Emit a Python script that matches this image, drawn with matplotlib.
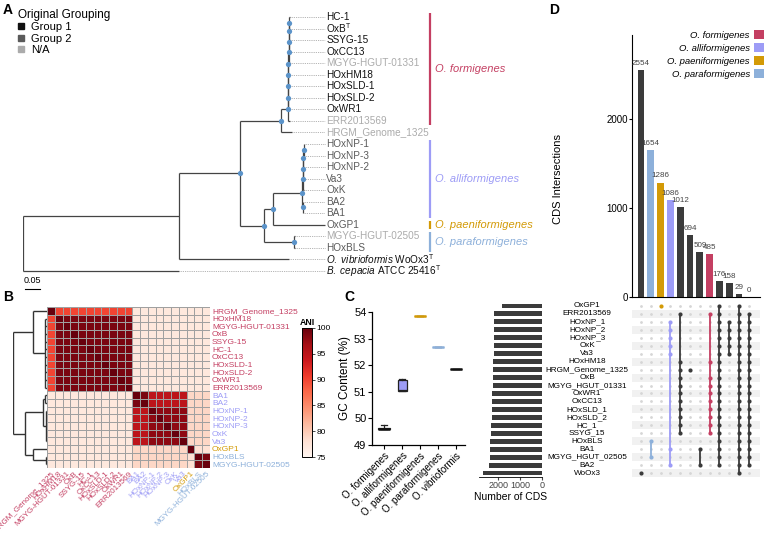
import numpy as np
import matplotlib
matplotlib.use('Agg')
import matplotlib.pyplot as plt
import matplotlib.transforms as mtransforms
from matplotlib.lines import Line2D
from matplotlib.patches import Patch

plt.rcParams['font.family'] = ['Liberation Sans', 'DejaVu Sans']
plt.rcParams['mathtext.fontset'] = 'custom'
plt.rcParams['mathtext.rm'] = 'Liberation Sans'
plt.rcParams['mathtext.it'] = 'Liberation Sans:italic'
plt.rcParams['mathtext.bf'] = 'Liberation Sans:bold'

# ---------------- data ----------------
# species colours
C_FORM, C_ALLI, C_PAENI, C_PARA, C_DARK = '#c43f62', '#9d9cf6', '#d39a06', '#8db0da', '#3b3b3b'

# Panel A: phylogeny (newick, branch lengths), tip groups, clade bars
FORM_LADDER = ("(((((((((HC-1:0.003,OxB:0.003)100:0.001,SSYG-15:0.004)100:0.001,OxCC13:0.005)100:0.0005,"
               "MGYG-HGUT-01331:0.0055)100:0.0005,HOxHM18:0.006)100:0.0005,HOxSLD-1:0.0065)100:0.0005,"
               "HOxSLD-2:0.007)100:0.0005,OxWR1:0.0075)100:0.0005,ERR2013569:0.008)100:0.023")
ALLI_CLADE = ("(((((HOxNP-1:0.002,HOxNP-3:0.002)100:0.001,HOxNP-2:0.003)100:0.001,Va3:0.003)100:0.001,"
              "OxK:0.003)100:0.002,(BA2:0.001,BA1:0.001)100:0.003)100:0.097")
PARA_CLADE = "(MGYG-HGUT-02505:0.003,HOxBLS:0.003)100:0.1"
TREE_NEWICK = ("((((" + FORM_LADDER + ",HRGM_Genome_1325:0.037)100:0.137,((" + ALLI_CLADE +
               ",OxGP1:0.173)100:0.03," + PARA_CLADE + ")100:0.08)100:0.203,WoOx3:0.367):0.52,"
               "ATCC25416:0.52);")
TIP_TEXT = {'OxB': r'OxB$^\mathrm{T}$',
            'WoOx3': r'$\mathit{O.\ vibrioformis}$ WoOx3$^\mathrm{T}$',
            'ATCC25416': r'$\mathit{B.\ cepacia}$ ATCC 25416$^\mathrm{T}$'}
GROUP1 = ['HC-1', 'OxB', 'SSYG-15', 'OxCC13', 'HOxHM18', 'HOxSLD-1', 'HOxSLD-2', 'OxWR1', 'WoOx3', 'ATCC25416']
GROUP2 = ['HOxNP-1', 'HOxNP-3', 'HOxNP-2', 'Va3', 'OxK', 'BA2', 'BA1', 'OxGP1', 'HOxBLS']
GROUP_COLORS = {'Group 1': '#111111', 'Group 2': '#5a5a5a', 'N/A': '#ababab'}
CLADES = [('O. formigenes', 'HC-1', 'ERR2013569', C_FORM),
          ('O. alliformigenes', 'HOxNP-1', 'BA1', C_ALLI),
          ('O. paeniformigenes', 'OxGP1', 'OxGP1', C_PAENI),
          ('O. paraformigenes', 'MGYG-HGUT-02505', 'HOxBLS', C_PARA)]

# Panel B: ANI heatmap
ANI_NAMES = ['HRGM_Genome_1325', 'HOxHM18', 'MGYG-HGUT-01331', 'OxB', 'SSYG-15', 'HC-1', 'OxCC13',
             'HOxSLD-1', 'HOxSLD-2', 'OxWR1', 'ERR2013569', 'BA1', 'BA2', 'HOxNP-1', 'HOxNP-2',
             'HOxNP-3', 'OxK', 'Va3', 'OxGP1', 'HOxBLS', 'MGYG-HGUT-02505']
ANI_SPECIES = ['form'] * 11 + ['alli'] * 7 + ['paeni'] + ['para'] * 2
ANI = [
    [100, 90, 90, 90, 90, 90, 90, 90, 90, 90, 90, 77, 77, 77, 77, 77, 77, 77, 77, 77, 77],
    [90, 100, 99, 99, 99, 99, 99, 99, 99, 99, 99, 77, 77, 77, 77, 77, 77, 77, 77, 77, 77],
    [90, 99, 100, 99, 99, 99, 99, 99, 99, 99, 99, 77, 77, 77, 77, 77, 77, 77, 77, 77, 77],
    [90, 99, 99, 100, 99, 99, 99, 99, 99, 99, 99, 77, 77, 77, 77, 77, 77, 77, 77, 77, 77],
    [90, 99, 99, 99, 100, 99, 99, 99, 99, 99, 99, 77, 77, 77, 77, 77, 77, 77, 77, 77, 77],
    [90, 99, 99, 99, 99, 100, 99, 99, 99, 99, 99, 77, 77, 77, 77, 77, 77, 77, 77, 77, 77],
    [90, 99, 99, 99, 99, 99, 100, 99, 99, 99, 99, 77, 77, 77, 77, 77, 77, 77, 77, 77, 77],
    [90, 99, 99, 99, 99, 99, 99, 100, 99, 99, 99, 77, 77, 77, 77, 77, 77, 77, 77, 77, 77],
    [90, 99, 99, 99, 99, 99, 99, 99, 100, 99, 99, 77, 77, 77, 77, 77, 77, 77, 77, 77, 77],
    [90, 99, 99, 99, 99, 99, 99, 99, 99, 100, 99, 77, 77, 77, 77, 77, 77, 77, 77, 77, 77],
    [90, 99, 99, 99, 99, 99, 99, 99, 99, 99, 100, 77, 77, 77, 77, 77, 77, 77, 77, 77, 77],
    [77, 77, 77, 77, 77, 77, 77, 77, 77, 77, 77, 100, 99, 95, 95, 95, 95, 95, 79, 79, 79],
    [77, 77, 77, 77, 77, 77, 77, 77, 77, 77, 77, 99, 100, 95, 95, 95, 95, 95, 79, 79, 79],
    [77, 77, 77, 77, 77, 77, 77, 77, 77, 77, 77, 95, 95, 100, 98, 98, 98, 98, 79, 79, 79],
    [77, 77, 77, 77, 77, 77, 77, 77, 77, 77, 77, 95, 95, 98, 100, 98, 98, 98, 79, 79, 79],
    [77, 77, 77, 77, 77, 77, 77, 77, 77, 77, 77, 95, 95, 98, 98, 100, 98, 98, 79, 79, 79],
    [77, 77, 77, 77, 77, 77, 77, 77, 77, 77, 77, 95, 95, 98, 98, 98, 100, 98, 79, 79, 79],
    [77, 77, 77, 77, 77, 77, 77, 77, 77, 77, 77, 95, 95, 98, 98, 98, 98, 100, 79, 79, 79],
    [77, 77, 77, 77, 77, 77, 77, 77, 77, 77, 77, 79, 79, 79, 79, 79, 79, 79, 100, 78, 78],
    [77, 77, 77, 77, 77, 77, 77, 77, 77, 77, 77, 79, 79, 79, 79, 79, 79, 79, 78, 100, 99],
    [77, 77, 77, 77, 77, 77, 77, 77, 77, 77, 77, 79, 79, 79, 79, 79, 79, 79, 78, 99, 100],
]
ANI_DENDRO = ("((HRGM_Genome_1325:0.41,(HOxHM18:0.06,MGYG-HGUT-01331:0.06,OxB:0.06,SSYG-15:0.06,HC-1:0.06,"
              "OxCC13:0.06,HOxSLD-1:0.06,HOxSLD-2:0.06,OxWR1:0.06,ERR2013569:0.06):0.35):0.59,"
              "(((BA1:0.05,BA2:0.05):0.07,(HOxNP-1:0.04,HOxNP-2:0.04,HOxNP-3:0.04,OxK:0.04,Va3:0.04):0.08):0.53,"
              "(OxGP1:0.41,(HOxBLS:0.03,MGYG-HGUT-02505:0.03):0.38):0.24):0.35);")

# Panel C: GC content summary per species (whislo, q1, med, q3, whishi)
GC_SPECIES = ['O. formigenes', 'O. alliformigenes', 'O. paeniformigenes', 'O. paraformigenes', 'O. vibrioformis']
GC_STATS = [(49.60, 49.60, 49.61, 49.63, 49.77),
            (51.02, 51.03, 51.05, 51.46, 51.47),
            (53.86, 53.86, 53.86, 53.86, 53.86),
            (52.70, 52.70, 52.70, 52.70, 52.70),
            (51.86, 51.86, 51.86, 51.86, 51.86)]
GC_COLORS = ['#111111', C_ALLI, C_PAENI, C_PARA, '#111111']

# Panel D: UpSet of CDS
SET_NAMES = ['OxGP1', 'ERR2013569', 'HOxNP_1', 'HOxNP_2', 'HOxNP_3', 'OxK', 'Va3', 'HOxHM18',
             'HRGM_Genome_1325', 'OxB', 'MGYG_HGUT_01331', 'OxWR1', 'OxCC13', 'HOxSLD_1', 'HOxSLD_2',
             'HC_1', 'SSYG_15', 'HOxBLS', 'BA1', 'MGYG_HGUT_02505', 'BA2', 'WoOx3']
SET_SIZES = [1835, 2180, 2180, 2180, 2185, 2190, 2190, 2240, 2245, 2245, 2255, 2285, 2285, 2300,
             2300, 2315, 2315, 2360, 2360, 2390, 2395, 2690]
FORM_SETS = ['ERR2013569', 'HOxHM18', 'HRGM_Genome_1325', 'OxB', 'MGYG_HGUT_01331', 'OxWR1', 'OxCC13',
             'HOxSLD_1', 'HOxSLD_2', 'HC_1', 'SSYG_15']
NP_SETS = ['HOxNP_1', 'HOxNP_2', 'HOxNP_3', 'OxK', 'Va3']
INTERSECT_SIZES = [2554, 1654, 1286, 1086, 1012, 694, 509, 485, 176, 158, 29, 0]
INTERSECT_COLORS = [C_DARK, C_PARA, C_PAENI, C_ALLI, C_DARK, C_DARK, C_DARK, C_FORM, C_DARK, C_DARK, C_DARK, C_DARK]
INTERSECT_MEMBERS = [
    ['WoOx3'],
    ['HOxBLS', 'MGYG_HGUT_02505'],
    ['OxGP1'],
    NP_SETS + ['BA1', 'BA2'],
    FORM_SETS,
    ['HRGM_Genome_1325'],
    ['BA1', 'BA2'],
    [s for s in FORM_SETS if s != 'HRGM_Genome_1325'],
    [s for s in SET_NAMES if s != 'WoOx3'],
    NP_SETS,
    SET_NAMES,
    [s for s in SET_NAMES if s not in ('OxGP1', 'WoOx3')],
]
LEGEND_SPECIES = [('O. formigenes', C_FORM), ('O. alliformigenes', C_ALLI),
                  ('O. paeniformigenes', C_PAENI), ('O. paraformigenes', C_PARA)]
SPECIES_COLOR = {'form': C_FORM, 'alli': C_ALLI, 'paeni': C_PAENI, 'para': C_PARA}


# ---------------- helpers ----------------
def parse_newick(s):
    s = s.strip().rstrip(';')
    pos = 0

    def node():
        nonlocal pos
        children = []
        if s[pos] == '(':
            pos += 1
            children.append(node())
            while s[pos] == ',':
                pos += 1
                children.append(node())
            pos += 1
        start = pos
        while pos < len(s) and s[pos] not in ':,)':
            pos += 1
        label = s[start:pos]
        length = 0.0
        if pos < len(s) and s[pos] == ':':
            pos += 1
            start = pos
            while pos < len(s) and s[pos] not in ',)':
                pos += 1
            length = float(s[start:pos])
        return {'label': label, 'len': length, 'children': children}
    return node()


def layout(n, x0, tips, offset=0.0):
    n['x'] = x0 + n['len']
    if n['children']:
        for c in n['children']:
            layout(c, n['x'], tips, offset)
        n['y'] = (n['children'][0]['y'] + n['children'][-1]['y']) / 2
    else:
        n['y'] = len(tips) + offset
        tips.append(n)


def draw_tree(ax, n, color, lw, dots=None):
    if not n['children']:
        return
    ys = [c['y'] for c in n['children']]
    ax.plot([n['x'], n['x']], [min(ys), max(ys)], color=color, lw=lw, solid_capstyle='butt')
    for c in n['children']:
        ax.plot([n['x'], c['x']], [c['y'], c['y']], color=color, lw=lw, solid_capstyle='butt')
        draw_tree(ax, c, color, lw, dots)
    if dots and n['label']:
        ax.plot(n['x'], n['y'], 'o', ms=3.8, color=dots, zorder=5, mec='none')


W, H = 767, 539
fig = plt.figure(figsize=(W / 100, H / 100), dpi=100)


def px_axes(x0, y0, x1, y1):
    return fig.add_axes([x0 / W, 1 - y1 / H, (x1 - x0) / W, (y1 - y0) / H])


for lab, x, y in [('A', 3, 3), ('B', 3, 290), ('C', 344, 290), ('D', 549, 3)]:
    fig.text(x / W, 1 - y / H, lab, fontsize=10, fontweight='bold', va='top', ha='left')

# ---------------- Panel A ----------------
axA = px_axes(23, 5, 545, 300)
axA.set_xlim(0, 522 / 300)
axA.set_ylim((300 - 17) / 11.545, -(17 - 5) / 11.545)
axA.axis('off')
tree = parse_newick(TREE_NEWICK)
tips = []
layout(tree, 0.0, tips)
draw_tree(axA, tree, '#444444', 0.9, dots='#5b93c9')
tip_end = 1.007
pos_of = {}
for t in tips:
    name = t['label']
    pos_of[name] = t['y']
    if t['x'] < tip_end - 0.002:
        axA.plot([t['x'], tip_end], [t['y'], t['y']], color='#9a9a9a', lw=0.6, ls=(0, (1, 1.2)))
    grp = 'Group 1' if name in GROUP1 else ('Group 2' if name in GROUP2 else 'N/A')
    axA.text(tip_end + 0.004, t['y'], TIP_TEXT.get(name, name), fontsize=7.2, va='center', ha='left',
             color=GROUP_COLORS[grp])
for text, first, last, col in CLADES:
    y0, y1 = pos_of[first] - 0.36, pos_of[last] + 0.38
    axA.plot([1.357, 1.357], [y0, y1], color=col, lw=1.6, solid_capstyle='butt')
    axA.text(1.373, (y0 + y1) / 2, text, color=col, fontsize=8, style='italic', va='center', ha='left')
axA.plot([0.007, 0.057], [23.56, 23.56], color='black', lw=0.8)
axA.text(0.032, 23.2, '0.05', fontsize=6.5, ha='center', va='bottom')

handles = [Line2D([], [], marker='s', ls='', color=c, ms=4.5) for c in GROUP_COLORS.values()]
fig.legend(handles, list(GROUP_COLORS.keys()), title='Original Grouping', loc='upper left',
           bbox_to_anchor=(18 / W, 1 - 9 / H), frameon=False, fontsize=8, title_fontsize=8.5,
           handlelength=0.6, handletextpad=0.6, labelspacing=0.12, borderaxespad=0, borderpad=0,
           alignment='left')

# ---------------- Panel B ----------------
M = np.array(ANI, dtype=float)
n = len(ANI_NAMES)
axH = px_axes(47, 307, 210, 468)
mesh = axH.pcolormesh(M, cmap='Reds', vmin=75, vmax=100, edgecolors='#a0a0a0', linewidth=0.6)
axH.set_xlim(0, n)
axH.set_ylim(n, 0)
axH.yaxis.tick_right()
axH.set_yticks(np.arange(n) + 0.5)
axH.set_yticklabels(ANI_NAMES, fontsize=6)
axH.set_xticks(np.arange(n) + 0.5)
axH.set_xticklabels(ANI_NAMES, fontsize=5.8, rotation=45, ha='right', rotation_mode='anchor')
axH.tick_params(length=0, pad=1.5)
for lbl, sp in zip(axH.get_yticklabels(), ANI_SPECIES):
    lbl.set_color(SPECIES_COLOR[sp])
for lbl, sp in zip(axH.get_xticklabels(), ANI_SPECIES):
    lbl.set_color(SPECIES_COLOR[sp])
for s in axH.spines.values():
    s.set_visible(False)

axDen = px_axes(13, 307, 47, 468)
den = parse_newick(ANI_DENDRO)
leaves = []
layout(den, 0.0, leaves, offset=0.5)
draw_tree(axDen, den, '#333333', 1.0)
axDen.set_xlim(0, 1)
axDen.set_ylim(n, 0)
axDen.axis('off')

cax = px_axes(302, 328, 312, 457)
cb = fig.colorbar(mesh, cax=cax, ticks=[75, 80, 85, 90, 95, 100])
cb.ax.tick_params(labelsize=6, length=2, width=0.5, pad=1)
cb.outline.set_linewidth(0.7)
cax.set_title('ANI', fontsize=6.3, fontweight='bold', pad=2)

# ---------------- Panel C ----------------
axC = px_axes(372, 312, 465, 445)
for i, (st, col) in enumerate(zip(GC_STATS, GC_COLORS)):
    wlo, q1, med, q3, whi = st
    stats = [{'whislo': wlo, 'q1': q1, 'med': med, 'q3': q3, 'whishi': whi}]
    single = q1 == q3
    boxw = 0.5 if i == 1 else 0.7
    axC.bxp(stats, positions=[i + 1], widths=boxw, showfliers=False, patch_artist=True,
            boxprops=dict(facecolor=col if i == 1 else 'none', edgecolor='#222222' if not single else col, lw=0.9),
            medianprops=dict(color=col if single or i == 0 else '#222222', lw=1.8 if i != 1 else 0.9),
            whiskerprops=dict(color='#222222', lw=0.9), capprops=dict(color='#222222', lw=0.9),
            capwidths=0.35)
axC.set_xlim(0.33, 5.5)
axC.set_ylim(49, 54)
axC.set_yticks([49, 50, 51, 52, 53, 54])
axC.set_xticks(range(1, 6))
axC.set_xticklabels(GC_SPECIES, rotation=45, ha='right', rotation_mode='anchor', fontsize=7)
axC.tick_params(axis='y', labelsize=8, length=3, width=0.8, pad=1)
axC.tick_params(axis='x', length=3, width=0.8, pad=1)
axC.set_ylabel('GC Content (%)', fontsize=8.5, labelpad=2)
for s in ['top', 'right']:
    axC.spines[s].set_visible(False)
for s in ['left', 'bottom']:
    axC.spines[s].set_linewidth(0.9)

# ---------------- Panel D ----------------
ncol = len(INTERSECT_SIZES)
xl = (-0.92, 12.14)
axBar = px_axes(632, 35, 760, 297)
xs = np.arange(ncol)
axBar.bar(xs, INTERSECT_SIZES, width=0.68, color=INTERSECT_COLORS)
for x, v in zip(xs, INTERSECT_SIZES):
    axBar.text(x, v + 35, str(v), ha='center', va='bottom', fontsize=5.8, color='#444444')
axBar.set_xlim(*xl)
axBar.set_ylim(0, 2944)
axBar.set_yticks([0, 1000, 2000])
axBar.set_xticks([])
axBar.tick_params(axis='y', labelsize=7, length=2, pad=1)
axBar.set_ylabel('CDS Intersections', fontsize=8)
axBar.yaxis.set_label_coords(-0.54, 0.45)
for s in ['top', 'right']:
    axBar.spines[s].set_visible(False)
handles = [Patch(facecolor=c, edgecolor='none') for _, c in LEGEND_SPECIES]
fig.legend(handles, [t for t, _ in LEGEND_SPECIES], loc='upper right', bbox_to_anchor=(764 / W, 1 - 30 / H),
           frameon=False, markerfirst=False, prop={'style': 'italic', 'size': 6.8},
           handlelength=1.1, handleheight=1.1, handletextpad=0.4, labelspacing=0.35, borderaxespad=0,
           borderpad=0)

nrow = len(SET_NAMES)
axM = px_axes(632, 302, 760, 477)
axM.set_xlim(*xl)
axM.set_ylim(nrow - 0.5, -0.5)
for r in range(1, nrow, 2):
    axM.axhspan(r - 0.5, r + 0.5, color='#f1f1f1', lw=0, zorder=0)
gx, gy = np.meshgrid(xs, np.arange(nrow))
axM.scatter(gx.ravel(), gy.ravel(), s=4, color='#d6d6d6', zorder=1, lw=0)
for x, members, col in zip(xs, INTERSECT_MEMBERS, INTERSECT_COLORS):
    ys = [SET_NAMES.index(m) for m in members]
    if len(ys) > 1:
        axM.plot([x, x], [min(ys), max(ys)], color=col, lw=1.3, zorder=2)
    axM.scatter([x] * len(ys), ys, s=9, color=col, zorder=3, lw=0)
axM.axis('off')

axS = px_axes(479, 302, 542, 477)
axS.barh(np.arange(nrow), SET_SIZES, height=0.62, color=C_DARK)
axS.set_xlim(2870, 0)
axS.set_ylim(nrow - 0.5, -0.5)
axS.set_xticks([2000, 1000, 0])
axS.set_yticks([])
axS.tick_params(axis='x', labelsize=6.5, length=2, pad=1, colors='#444444')
axS.set_xlabel('Number of CDS', fontsize=7.5, labelpad=1)
for s in ['top', 'right', 'left']:
    axS.spines[s].set_visible(False)
axS.spines['bottom'].set_linewidth(0.6)
trans = mtransforms.blended_transform_factory(fig.transFigure, axS.transData)
for i, name in enumerate(SET_NAMES):
    fig.text(587 / W, i, name, transform=trans, ha='center', va='center', fontsize=5.9)

fig.savefig('out.png', dpi=100)
